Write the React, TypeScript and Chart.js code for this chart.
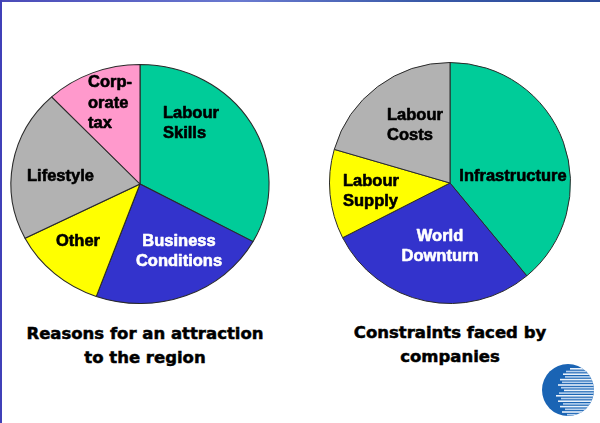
import React, { useEffect, useRef } from "react";
import { Chart, registerables } from "chart.js";

Chart.register(...registerables);

// ---- Data ----
const reasonCategories = ["Labour Skills", "Business Conditions", "Other", "Lifestyle", "Corporate tax"];
const reasonValues = [33, 22.5, 12, 20.5, 12];
const reasonColors = ["#00CC99", "#3333CC", "#FFFF00", "#B2B2B2", "#FF99CC"];
const reasonLabelLines = [["Labour", "Skills"], ["Business", "Conditions"], ["Other"], ["Lifestyle"], ["Corp-", "orate", "tax"]];

const constraintCategories = ["Infrastructure", "World Downturn", "Labour Supply", "Labour Costs"];
const constraintValues = [39, 28.5, 12, 20.5];
const constraintColors = ["#00CC99", "#3333CC", "#FFFF00", "#B2B2B2"];
const constraintLabelLines = [["Infrastructure"], ["World", "Downturn"], ["Labour", "Supply"], ["Labour", "Costs"]];

const captionLeft = ["Reasons for an attraction", "to the region"];
const captionRight = ["Constraints faced by", "companies"];

// ---- Layout (label placement relative to pie centre) ----
type LabelPos = { dx: number; dy: number; align: CanvasTextAlign; color: string };
const reasonLabelPos: LabelPos[] = [
  { dx: 23, dy: -71, align: "left", color: "#000" },
  { dx: 39, dy: 57, align: "center", color: "#fff" },
  { dx: -62, dy: 57, align: "center", color: "#000" },
  { dx: -79.5, dy: -8, align: "center", color: "#000" },
  { dx: -52, dy: -101.5, align: "left", color: "#000" },
];
const constraintLabelPos: LabelPos[] = [
  { dx: 63, dy: -7, align: "center", color: "#000" },
  { dx: -10, dy: 53, align: "center", color: "#fff" },
  { dx: -107, dy: -2, align: "left", color: "#000" },
  { dx: -63, dy: -68, align: "left", color: "#000" },
];

const LABEL_FONT = "bold 16.5px 'Liberation Sans', Arial, sans-serif";
const LINE_GAP = 20.5;

function makePlugin(lines: string[][], pos: LabelPos[], scaleX: number) {
  return {
    id: "pieDecor",
    beforeDatasetsDraw(chart: any) {
      const arc = chart.getDatasetMeta(0).data[0];
      const ctx = chart.ctx;
      ctx.save();
      ctx.translate(arc.x, arc.y);
      ctx.scale(scaleX, 1);
      ctx.translate(-arc.x, -arc.y);
    },
    afterDatasetsDraw(chart: any) {
      const ctx = chart.ctx;
      ctx.restore();
      const arc = chart.getDatasetMeta(0).data[0];
      ctx.save();
      ctx.font = LABEL_FONT;
      ctx.textBaseline = "middle";
      ctx.lineWidth = 0.6;
      ctx.lineJoin = "round";
      lines.forEach((ls, i) => {
        const p = pos[i];
        ctx.fillStyle = p.color;
        ctx.strokeStyle = p.color;
        ctx.textAlign = p.align;
        ls.forEach((t, j) => {
          const x = arc.x + p.dx;
          const y = arc.y + p.dy + j * LINE_GAP;
          ctx.fillText(t, x, y);
          ctx.strokeText(t, x, y);
        });
      });
      ctx.restore();
    },
  };
}

function PieCanvas(props: {
  categories: string[];
  values: number[];
  colors: string[];
  lines: string[][];
  pos: LabelPos[];
  scaleX: number;
  width: number;
  height: number;
  padX: number;
  left: number;
  top: number;
}) {
  const ref = useRef<HTMLCanvasElement>(null);
  useEffect(() => {
    if (!ref.current) return;
    const chart = new Chart(ref.current, {
      type: "pie",
      data: {
        labels: props.categories,
        datasets: [
          {
            data: props.values,
            backgroundColor: props.colors,
            borderColor: "#2a2a2a",
            borderWidth: 1,
          },
        ],
      },
      options: {
        responsive: false,
        maintainAspectRatio: false,
        animation: false,
        devicePixelRatio: 1,
        layout: { padding: { left: props.padX, right: props.padX, top: 0, bottom: 0 } },
        plugins: { legend: { display: false }, tooltip: { enabled: false } },
      },
      plugins: [makePlugin(props.lines, props.pos, props.scaleX)],
    } as any);
    return () => chart.destroy();
  }, []);
  return (
    <canvas
      ref={ref}
      width={props.width}
      height={props.height}
      style={{ position: "absolute", left: props.left, top: props.top, width: props.width, height: props.height }}
    />
  );
}

function Logo() {
  const ref = useRef<HTMLCanvasElement>(null);
  useEffect(() => {
    const c = ref.current;
    if (!c) return;
    const ctx = c.getContext("2d")!;
    const cx = 30, cy = 30, r = 26;
    ctx.clearRect(0, 0, 60, 60);
    ctx.save();
    ctx.beginPath();
    ctx.arc(cx, cy, r, 0, Math.PI * 2);
    ctx.fillStyle = "#1A64B4";
    ctx.fill();
    ctx.clip();
    const starts = [2, -2, -5, -3, -8, -6, -10, -7, -4, -9, -12, -7, -10, -5, -8, -3, -6, -1];
    for (let i = 0; i < starts.length; i++) {
      const y = cy - 22 + i * 2.7;
      ctx.fillStyle = i % 2 === 0 ? "#EAF2FB" : "#B9D2EE";
      ctx.fillRect(cx + starts[i], y, 40, 1.6);
    }
    ctx.restore();
  }, []);
  return <canvas ref={ref} width={60} height={60} style={{ position: "absolute", left: 538, top: 360, width: 60, height: 60 }} />;
}

const captionStyle: React.CSSProperties = {
  position: "absolute",
  width: 300,
  textAlign: "center",
  font: "bold 16.5px 'DejaVu Sans', sans-serif",
  lineHeight: "24px",
  color: "#000",
  whiteSpace: "nowrap",
  WebkitTextStroke: "0.5px #000",
};

export default function App() {
  return (
    <div
      style={{
        position: "fixed",
        left: 0,
        top: 0,
        width: 600,
        height: 423,
        background: "#fff",
        overflow: "hidden",
      }}
    >
      <div style={{ position: "absolute", left: 0, top: 0, width: 600, height: 2, background: "linear-gradient(to right, #4a4ab8, #6a7ad0 40%, #3a5aa8 70%, #2a4a9a)" }} />
      <div style={{ position: "absolute", left: 0, top: 0, width: 2, height: 423, background: "#4040B8" }} />
      <PieCanvas
        categories={reasonCategories}
        values={reasonValues}
        colors={reasonColors}
        lines={reasonLabelLines}
        pos={reasonLabelPos}
        scaleX={1.08}
        width={280}
        height={240}
        padX={20}
        left={0}
        top={64}
      />
      <PieCanvas
        categories={constraintCategories}
        values={constraintValues}
        colors={constraintColors}
        lines={constraintLabelLines}
        pos={constraintLabelPos}
        scaleX={1}
        width={242}
        height={242}
        padX={0}
        left={329}
        top={62}
      />
      <div style={{ ...captionStyle, left: -5, top: 322 }}>
        {captionLeft.map((t, i) => (
          <div key={i}>{t}</div>
        ))}
      </div>
      <div style={{ ...captionStyle, left: 300, top: 321 }}>
        {captionRight.map((t, i) => (
          <div key={i}>{t}</div>
        ))}
      </div>
      <Logo />
    </div>
  );
}
